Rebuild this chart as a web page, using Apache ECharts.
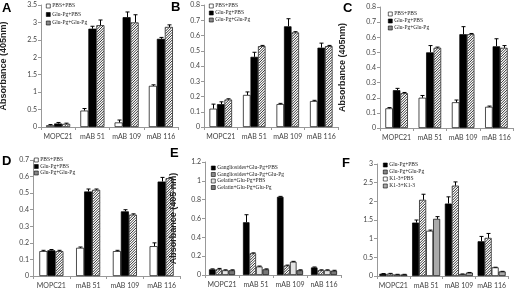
<!DOCTYPE html>
<html>
<head>
<meta charset="utf-8">
<script src="https://cdn.jsdelivr.net/npm/echarts@6/dist/echarts.min.js"></script>
<style>
  html, body { margin: 0; padding: 0; background: #fff; }
  #wrap { position: relative; width: 520px; height: 296px; }
  .panel { position: absolute; left: 0; top: 0; width: 520px; height: 296px; }
</style>
</head>
<body>
<div id="wrap"></div>
<script>
// categories
const cats = ['MOPC21', 'mAB 51', 'mAB 109', 'mAB 116'];
const catsE = ['MOPC21', 'mAB 51', 'mAB 109', 'nAB 116'];

// panel A
const aPbs = [0.05, 0.47, 0.13, 1.18];
const aGluPbs = [0.10, 2.82, 3.15, 2.53];
const aGluGlu = [0.09, 2.92, 3.00, 2.87];
const aPbsErr = [0.02, 0.06, 0.07, 0.03];
const aGluPbsErr = [0.03, 0.07, 0.15, 0.04];
const aGluGluErr = [0.02, 0.15, 0.22, 0.06];

// panel B
const bPbs = [0.12, 0.21, 0.15, 0.17];
const bGluPbs = [0.15, 0.46, 0.66, 0.52];
const bGluGlu = [0.18, 0.53, 0.62, 0.53];
const bPbsErr = [0.03, 0.02, 0.005, 0.005];
const bGluPbsErr = [0.015, 0.03, 0.05, 0.03];
const bGluGluErr = [0.005, 0.005, 0.005, 0.005];

// panel C
const cPbs = [0.13, 0.20, 0.17, 0.14];
const cGluPbs = [0.25, 0.50, 0.62, 0.54];
const cGluGlu = [0.23, 0.53, 0.62, 0.53];
const cPbsErr = [0.005, 0.015, 0.015, 0.005];
const cGluPbsErr = [0.012, 0.045, 0.05, 0.05];
const cGluGluErr = [0.005, 0.005, 0.005, 0.015];

// panel D
const dPbs = [0.15, 0.17, 0.15, 0.18];
const dGluPbs = [0.155, 0.51, 0.39, 0.57];
const dGluGlu = [0.15, 0.52, 0.37, 0.59];
const dPbsErr = [0.005, 0.005, 0.005, 0.02];
const dGluPbsErr = [0.005, 0.015, 0.01, 0.025];
const dGluGluErr = [0.005, 0.005, 0.005, 0.005];

// panel E
const eGangPbs = [0.06, 0.56, 0.83, 0.08];
const eGangGlu = [0.06, 0.23, 0.10, 0.05];
const eGelPbs = [0.05, 0.09, 0.14, 0.05];
const eGelGlu = [0.05, 0.06, 0.05, 0.045];
const eGangPbsErr = [0.005, 0.08, 0.005, 0.005];
const eGangGluErr = [0.01, 0.005, 0.005, 0.005];
const eGelPbsErr = [0.005, 0.005, 0.005, 0.005];
const eGelGluErr = [0.005, 0.005, 0.005, 0.005];

// panel F
const fGluPbs = [0.06, 1.43, 1.94, 0.93];
const fGluGlu = [0.06, 2.04, 2.42, 1.02];
const fK3Pbs = [0.04, 1.21, 0.05, 0.23];
const fK3K3 = [0.04, 1.53, 0.09, 0.12];
const fGluPbsErr = [0.005, 0.07, 0.18, 0.13];
const fGluGluErr = [0.01, 0.15, 0.10, 0.12];
const fK3PbsErr = [0.005, 0.02, 0.005, 0.005];
const fK3K3Err = [0.005, 0.06, 0.005, 0.005];

const font = 'Lato, "Liberation Sans", sans-serif';
const HATCH = 'hatch';
const hatchedNames = ['Glu-Pg+Glu-Pg', 'Gangliosides+Glu-Pg+Glu-Pg'];

function buildSeries(names, vals, errs, colors, bw) {
    const n = vals.length;
    const out = vals.map((arr, s) => ({
        name: names[s],
        type: 'bar',
        data: arr,
        barWidth: bw,
        barGap: '0%',
        itemStyle: {color: colors[s] === HATCH ? '#fff' : colors[s], borderColor: '#000', borderWidth: 0.7},
        silent: true
    }));
    // error bars + diagonal hatching drawn over the bars
    const data = [];
    vals.forEach((arr, s) => arr.forEach((v, c) => data.push([c, v, errs[s][c], s, colors[s] === HATCH ? 1 : 0])));
    out.push({
        type: 'custom',
        z: 10,
        silent: true,
        data: data,
        renderItem: function (params, api) {
            const c = api.value(0), v = api.value(1), e = api.value(2), s = api.value(3), h = api.value(4);
            const p = api.coord([c, v]);
            const p0 = api.coord([c, 0]);
            const cx = p[0] + (s - (n - 1) / 2) * bw;
            const children = [];
            if (h) {
                const x0 = cx - bw / 2 + 0.6, x1 = cx + bw / 2 - 0.6, y0 = p[1] + 0.6, y1 = p0[1] - 0.6;
                for (let k = x0 + y0 + 1; k < x1 + y1; k += 2.6) {
                    const xa = Math.max(x0, k - y1), xb = Math.min(x1, k - y0);
                    if (xb > xa) {
                        children.push({type: 'line', shape: {x1: xa, y1: k - xa, x2: xb, y2: k - xb},
                            style: {stroke: '#333', lineWidth: 1}});
                    }
                }
            }
            const top = api.coord([c, v + e]);
            const x = Math.round(cx) + 0.5;
            children.push({type: 'line', shape: {x1: x, y1: p[1], x2: x, y2: top[1]}, style: {stroke: '#000', lineWidth: 1}});
            children.push({type: 'line', shape: {x1: x - 2, y1: top[1], x2: x + 2, y2: top[1]}, style: {stroke: '#000', lineWidth: 1}});
            return {type: 'group', children: children};
        }
    });
    return out;
}

const three = ['PBS+PBS', 'Glu-Pg+PBS', 'Glu-Pg+Glu-Pg'];
const threeColors = ['#fff', '#000', HATCH];
const eNames = ['Gangliosides+Glu-Pg+PBS', 'Gangliosides+Glu-Pg+Glu-Pg', 'Gelatin+Glu-Pg+PBS', 'Gelatin+Glu-Pg+Glu-Pg'];
const fNames = ['Glu-Pg+PBS', 'Glu-Pg+Glu-Pg', 'K1-3+PBS', 'K1-3+K1-3'];

const panels = [
    {letter: 'A', lx: 2, ly: 2, grid: {left: 41, top: 5, width: 137, height: 122}, max: 3.5, step: 0.5,
        name: 'Absorbance (405nm)', gap: 33, legend: {left: 46, top: 3, gap: 2.5}, cats: cats,
        series: buildSeries(three, [aPbs, aGluPbs, aGluGlu], [aPbsErr, aGluPbsErr, aGluGluErr], threeColors, 8), names: three},
    {letter: 'B', lx: 171, ly: 1, grid: {left: 204, top: 5, width: 134, height: 122}, max: 0.8, step: 0.1,
        name: '', gap: 0, legend: {left: 209, top: 3, gap: 1}, cats: cats,
        series: buildSeries(three, [bPbs, bGluPbs, bGluGlu], [bPbsErr, bGluPbsErr, bGluGluErr], threeColors, 7.5), names: three},
    {letter: 'C', lx: 343, ly: 2, grid: {left: 380, top: 7, width: 133, height: 121}, max: 0.8, step: 0.1,
        name: 'Absorbance (405nm)', gap: 33, legend: {left: 388, top: 11, gap: 1}, cats: cats,
        series: buildSeries(three, [cPbs, cGluPbs, cGluGlu], [cPbsErr, cGluPbsErr, cGluGluErr], threeColors, 7.5), names: three},
    {letter: 'D', lx: 2, ly: 155, grid: {left: 33, top: 160, width: 147, height: 116}, max: 0.7, step: 0.1,
        name: '', gap: 0, legend: {left: 34, top: 157, gap: 0.5}, cats: cats,
        series: buildSeries(three, [dPbs, dGluPbs, dGluGlu], [dPbsErr, dGluPbsErr, dGluGluErr], threeColors, 8), names: three},
    {letter: 'E', lx: 170, ly: 147, grid: {left: 205, top: 162, width: 136, height: 113}, max: 1.2, step: 0.2,
        name: 'Absorbance (405 nm)', gap: 27, legend: {left: 211, top: 165, gap: 0.5}, cats: catsE,
        series: buildSeries(eNames, [eGangPbs, eGangGlu, eGelPbs, eGelGlu], [eGangPbsErr, eGangGluErr, eGelPbsErr, eGelGluErr], ['#000', HATCH, '#e4e4e4', '#777'], 6.5), names: eNames},
    {letter: 'F', lx: 342, ly: 157, grid: {left: 377, top: 164, width: 131, height: 112}, max: 3, step: 0.5,
        name: '', gap: 0, legend: {left: 383, top: 162, gap: 1}, cats: cats,
        series: buildSeries(fNames, [fGluPbs, fGluGlu, fK3Pbs, fK3K3], [fGluPbsErr, fGluGluErr, fK3PbsErr, fK3K3Err], ['#000', HATCH, '#fff', '#aaa'], 7), names: fNames}
];

// one chart instance per panel, stacked on transparent canvases
panels.forEach(p => {
    const div = document.createElement('div');
    div.className = 'panel';
    document.getElementById('wrap').appendChild(div);
    const option = {
        animation: false,
        backgroundColor: 'transparent',
        grid: Object.assign({outerBoundsMode: 'none', containLabel: false}, p.grid),
        xAxis: {
            type: 'category',
            data: p.cats,
            axisLine: {lineStyle: {color: '#999', width: 1}},
            axisTick: {show: true, length: 3, lineStyle: {color: '#999'}},
            axisLabel: {fontSize: 7, color: '#444', margin: 6, fontFamily: font, interval: 0}
        },
        yAxis: {
            type: 'value',
            min: 0,
            max: p.max,
            interval: p.step,
            name: p.name,
            nameLocation: 'middle',
            nameRotate: 90,
            nameGap: p.gap,
            nameTextStyle: {fontSize: 9, fontWeight: 'bold', color: '#222', fontFamily: '"Liberation Sans", Arial, sans-serif'},
            axisLine: {show: true, lineStyle: {color: '#999', width: 1}},
            axisTick: {show: true, length: 3, lineStyle: {color: '#999'}},
            splitLine: {show: false},
            axisLabel: {show: true, hideOverlap: false, showMinLabel: true, showMaxLabel: true,
                fontSize: 7, color: '#444', margin: 4, fontFamily: font}
        },
        legend: {
            data: p.names.map(nm => hatchedNames.indexOf(nm) >= 0 ? {name: nm, itemStyle: {color: '#888'}} : nm),
            left: p.legend.left,
            top: p.legend.top,
            orient: 'vertical',
            itemWidth: 4,
            itemHeight: 4,
            itemGap: p.legend.gap,
            padding: 0,
            icon: 'rect',
            selectedMode: false,
            itemStyle: {borderColor: '#000', borderWidth: 0.6},
            textStyle: {fontSize: 5.5, lineHeight: 6, color: '#222', padding: [0, 0, 0, -3], fontFamily: '"Liberation Serif", serif'}
        },
        graphic: [{
            type: 'text',
            left: p.lx,
            top: p.ly,
            style: {text: p.letter, font: 'bold 13px "Liberation Sans", Arial, sans-serif', fill: '#000'}
        }],
        series: p.series
    };
    echarts.init(div, null, {renderer: 'canvas'}).setOption(option);
});
</script>
</body>
</html>
